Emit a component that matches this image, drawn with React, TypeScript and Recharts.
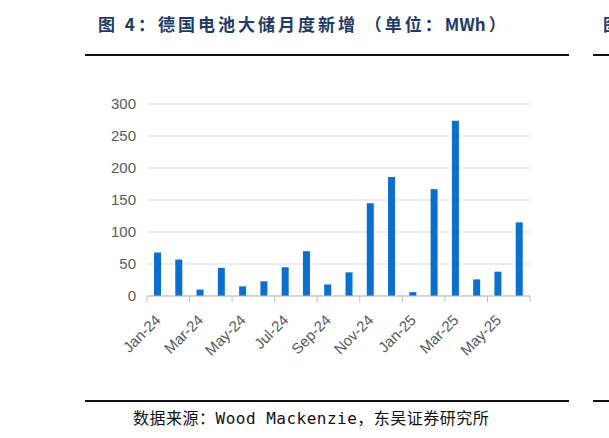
import { BarChart, Bar, XAxis, YAxis, CartesianGrid } from 'recharts'

const months = [
  'Jan-24', 'Feb-24', 'Mar-24', 'Apr-24', 'May-24', 'Jun-24',
  'Jul-24', 'Aug-24', 'Sep-24', 'Oct-24', 'Nov-24', 'Dec-24',
  'Jan-25', 'Feb-25', 'Mar-25', 'Apr-25', 'May-25', 'Jun-25',
]
const additions = [68, 57, 10, 44, 15, 23, 45, 70, 18, 37, 145, 186, 6, 167, 274, 26, 38, 115]
const yTicks = [0, 50, 100, 150, 200, 250, 300]

const titleHead = '图 4：德国电池大储月度新增 （单位：'
const titleUnit = 'MWh'
const titleTail = '）'
const source = '数据来源：Wood Mackenzie，东吴证券研究所'

const data = months.map((m, i) => ({ month: m, value: additions[i] }))

const W = 609
const H = 438
const PLOT_LEFT = 147
const PLOT_RIGHT = 530
const PLOT_TOP = 104
const PLOT_BOTTOM = 296
const Y_AXIS_W = 60
const X_AXIS_H = 60
const BAND = (PLOT_RIGHT - PLOT_LEFT) / months.length

const AXIS_GRAY = '#595959'
const LINE_GRAY = '#BFBFBF'
const TITLE_BLUE = '#1F3A66'

function MonthTick(props: any) {
  const { x, index, payload } = props
  const last = index === months.length - 1
  const even = index % 2 === 0
  const tx = x + 4
  const ty = PLOT_BOTTOM + 25
  return (
    <g>
      {even && (
        <line x1={x - BAND / 2} x2={x - BAND / 2} y1={PLOT_BOTTOM} y2={PLOT_BOTTOM + 6} stroke={LINE_GRAY} />
      )}
      {last && (
        <line x1={x + BAND / 2} x2={x + BAND / 2} y1={PLOT_BOTTOM} y2={PLOT_BOTTOM + 6} stroke={LINE_GRAY} />
      )}
      {even && (
        <text
          x={tx}
          y={ty}
          textAnchor="end"
          fill={AXIS_GRAY}
          fontSize={15}
          fontFamily="'Liberation Sans', Arial, sans-serif"
          transform={`rotate(-45, ${tx}, ${ty})`}
        >
          {payload.value}
        </text>
      )}
    </g>
  )
}

export default function App() {
  return (
    <div
      style={{
        position: 'absolute',
        left: 0,
        top: 0,
        width: W,
        height: H,
        overflow: 'hidden',
        background: '#fff',
      }}
    >
      <div
        style={{
          position: 'absolute',
          left: 98,
          top: 14,
          fontSize: 17,
          lineHeight: '20px',
          fontWeight: 'bold',
          letterSpacing: 3,
          whiteSpace: 'nowrap',
          color: TITLE_BLUE,
          fontFamily: "'Noto Sans CJK SC', sans-serif",
        }}
      >
        {titleHead}
        <span style={{ letterSpacing: 0, marginRight: 3 }}>{titleUnit}</span>
        {titleTail}
      </div>
      <div
        style={{
          position: 'absolute',
          left: 603,
          top: 14,
          fontSize: 17,
          lineHeight: '20px',
          fontWeight: 'bold',
          color: TITLE_BLUE,
          fontFamily: "'Noto Sans CJK SC', sans-serif",
        }}
      >
        图
      </div>
      <div style={{ position: 'absolute', left: 85, top: 54, width: 484, height: 2, background: '#111' }} />
      <div style={{ position: 'absolute', left: 593, top: 54, width: 20, height: 2, background: '#111' }} />

      <div style={{ position: 'absolute', left: 0, top: 0 }}>
        <BarChart
          width={W}
          height={H}
          data={data}
          margin={{
            top: PLOT_TOP,
            right: W - PLOT_RIGHT,
            bottom: H - PLOT_BOTTOM - X_AXIS_H,
            left: PLOT_LEFT - Y_AXIS_W,
          }}
        >
          <CartesianGrid vertical={false} stroke="#D9D9D9" />
          <XAxis
            dataKey="month"
            interval={0}
            height={X_AXIS_H}
            axisLine={{ stroke: LINE_GRAY }}
            tickLine={false}
            tick={<MonthTick />}
          />
          <YAxis
            width={Y_AXIS_W}
            domain={[0, 300]}
            ticks={yTicks}
            axisLine={false}
            tickLine={false}
            tickMargin={5}
            tick={{ fill: AXIS_GRAY, fontSize: 15, fontFamily: "'Liberation Sans', Arial, sans-serif" }}
          />
          <Bar dataKey="value" fill="#0A6FCF" barSize={7} isAnimationActive={false} />
        </BarChart>
      </div>

      <div style={{ position: 'absolute', left: 85, top: 400, width: 484, height: 2, background: '#111' }} />
      <div style={{ position: 'absolute', left: 593, top: 400, width: 20, height: 2, background: '#111' }} />
      <div
        style={{
          position: 'absolute',
          left: 133,
          top: 409,
          fontSize: 16,
          lineHeight: '20px',
          letterSpacing: 0.5,
          whiteSpace: 'nowrap',
          color: '#111',
          fontFamily: "'DejaVu Sans Mono', 'Noto Sans CJK SC', monospace",
        }}
      >
        {source}
      </div>
    </div>
  )
}
